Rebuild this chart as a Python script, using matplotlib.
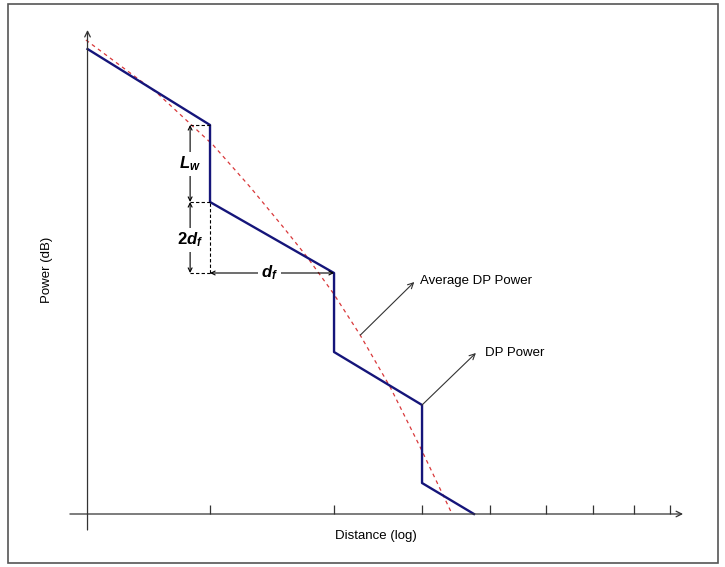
import numpy as np
import matplotlib.pyplot as plt
from matplotlib.patches import Rectangle

plt.rcParams['font.family'] = 'Liberation Sans'
plt.rcParams['mathtext.fontset'] = 'custom'
plt.rcParams['mathtext.it'] = 'Liberation Sans:bold:italic'
plt.rcParams['mathtext.rm'] = 'Liberation Sans:bold'

# DP power: stepped decay vs distance (log scale), power in arbitrary dB units
dp_dist = [1.34, 2, 2, 3, 3, 4, 4, 4.74]
dp_power = [46.5, 38.9, 31.2, 24.1, 16.2, 10.9, 3.1, 0.0]

# Average DP power (dashed red curve)
avg_dist = [1.333, 1.682, 2.02, 2.28, 2.54, 2.747, 2.991, 3.267, 3.604, 3.975, 4.413]
avg_power = [47.4, 42.1, 36.9, 32.7, 28.7, 25.7, 22.1, 17.9, 12.7, 6.7, 0.0]

# x-axis tick marks (no labels)
tick_dist = [2, 3, 4, 5, 6, 7, 8, 9]

x0 = 1.34  # where the power axis stands
Lw_top, Lw_bot, df_level = 38.9, 31.2, 24.1
ann_x = 1.874

fig = plt.figure(figsize=(7.25, 5.67), dpi=100)
ax = fig.add_axes([0, 0, 1, 1])
ax.set_xscale('log')
ax.set_xlim(1.00656, 10.77)
ax.set_ylim(-5.3, 51.4)
ax.axis('off')

# frame around the picture
fig.patches.append(Rectangle((8 / 725, 4 / 567), 710 / 725, 559 / 567,
                             transform=fig.transFigure, fill=False,
                             edgecolor='#555555', linewidth=1.2))

# axes with open arrow heads
axis_kw = dict(arrowstyle='->', color='#333333', lw=0.9, shrinkA=0, shrinkB=0)
ax.annotate('', xy=(9.39, 0), xytext=(1.265, 0), arrowprops=axis_kw)
ax.annotate('', xy=(x0, 48.4), xytext=(x0, -1.6), arrowprops=axis_kw)
ax.vlines(tick_dist, 0, 0.9, color='#333333', lw=0.9)

ax.text(x0 * 0.876, 24.4, 'Power (dB)', rotation=90, ha='center', va='center', fontsize=9.5)
ax.text(3.44, -2.2, 'Distance (log)', ha='center', va='center', fontsize=9.5)

# curves
ax.plot(avg_dist, avg_power, color='#d9383a', lw=0.9, ls=(0, (3, 3)))
ax.plot(dp_dist, dp_power, color='#15157a', lw=1.7)

# dimension lines
dash_kw = dict(color='black', lw=0.8, ls=(0, (3, 2)))
ax.hlines([Lw_top, Lw_bot, df_level], ann_x, 2, **dash_kw)
ax.vlines(2, df_level, Lw_bot, **dash_kw)

dim_kw = dict(arrowstyle='<->', color='black', lw=0.8, shrinkA=0, shrinkB=0,
              mutation_scale=7)
ax.annotate('', xy=(ann_x, Lw_top), xytext=(ann_x, Lw_bot), arrowprops=dim_kw)
ax.annotate('', xy=(ann_x, Lw_bot), xytext=(ann_x, df_level), arrowprops=dim_kw)
ax.annotate('', xy=(2, df_level), xytext=(3, df_level), arrowprops=dim_kw)

lab_kw = dict(ha='center', va='center', fontsize=12,
              bbox=dict(facecolor='white', edgecolor='none', pad=2))
ax.text(ann_x, 35.0, '$L_w$', **lab_kw)
ax.text(ann_x, 27.4, '$2d_f$', **lab_kw)
ax.text(2.43, df_level, '$d_f$', **lab_kw)

# callouts
call_kw = dict(arrowstyle='->', color='#333333', lw=0.8, shrinkA=0, shrinkB=0)
ax.annotate('', xy=(3.90, 23.2), xytext=(3.27, 17.9), arrowprops=call_kw)
ax.text(3.97, 23.3, 'Average DP Power', ha='left', va='center', fontsize=9.5)
ax.annotate('', xy=(4.77, 16.1), xytext=(4.0, 10.9), arrowprops=call_kw)
ax.text(4.92, 16.1, 'DP Power', ha='left', va='center', fontsize=9.5)

fig.savefig('out.png', dpi=100)
